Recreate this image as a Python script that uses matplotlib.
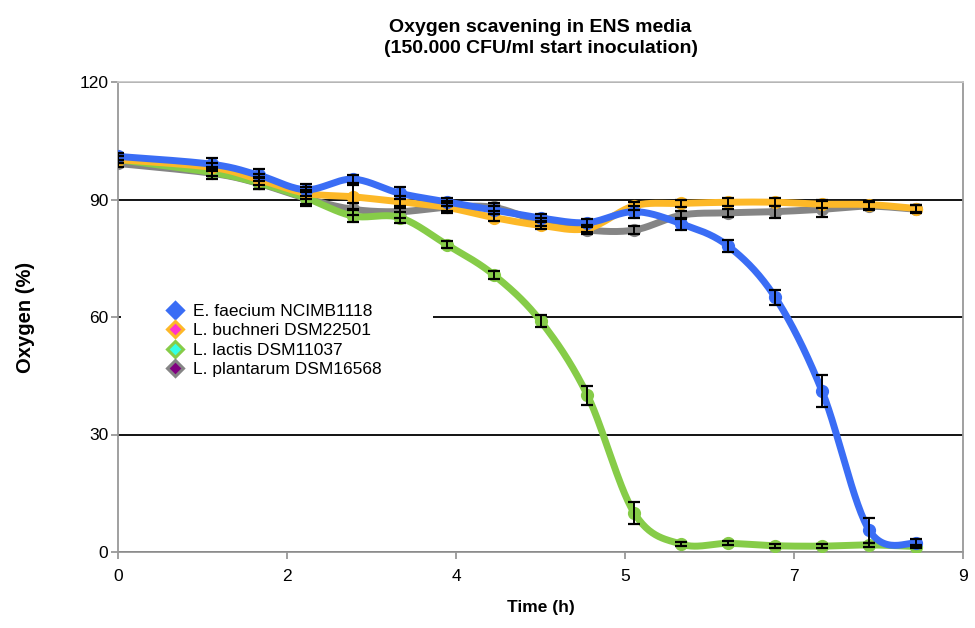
import matplotlib
matplotlib.use("Agg")
import matplotlib.pyplot as plt
from matplotlib.lines import Line2D
import numpy as np

plt.rcParams["font.family"] = ["Liberation Sans", "DejaVu Sans"]

time_h = [0, 1, 1.5, 2, 2.5, 3, 3.5, 4, 4.5, 5, 5.5, 6, 6.5, 7, 7.5, 8, 8.5]

labels = ["E. faecium NCIMB1118", "L. buchneri DSM22501",
          "L. lactis DSM11037", "L. plantarum DSM16568"]

faecium = [101, 99, 96.2, 92.5, 95.2, 91.6, 89.4, 87.3, 85.3, 84.1, 86.9, 83.8, 78.1, 65, 41, 5.6, 2.2]
buchneri = [100.2, 98.2, 95.1, 91.6, 90.7, 89.4, 88, 85.4, 83.4, 82.6, 88.4, 89, 89.3, 89.3, 88.8, 88.7, 87.7]
lactis = [100.2, 96.9, 94.2, 90.4, 85.8, 85.4, 78.5, 70.8, 59, 40, 9.9, 2.0, 2.2, 1.6, 1.5, 1.8, 1.4]
plantarum = [99.2, 96.7, 94.1, 90.3, 87.5, 86.9, 88, 88, 84.3, 82.2, 82.2, 86, 86.6, 86.9, 87.5, 88.3, 87.5]

err_faecium = [1, 1.5, 1.5, 1.5, 1, 1.5, 1, 1, 1, 1, 1.5, 1.5, 1.5, 2, 4.1, 3.2, 1]
err_buchneri = [1, 1, 1.5, 1.5, 3, 1.5, 1.5, 1, 1, 1, 1, 1, 1, 1, 1, 1, 1]
err_lactis = [1, 1, 1.5, 2, 1.5, 1.5, 1, 1, 1.5, 2.5, 2.8, 0.5, 0.5, 0.5, 0.5, 0.5, 0.5]
err_plantarum = [1, 1.5, 1.5, 1.5, 1.5, 1.5, 1, 1, 1, 1, 1, 1, 1, 1.5, 2, 1, 1]

line_colors = ["#3a6df5", "#fdb827", "#86cc48", "#858585"]
legend_faces = ["#3a6df5", "#ff33cc", "#33ffe6", "#800080"]


def smooth(x, y, n=30):
    # catmull-rom, like excel "smoothed line"
    x = np.asarray(x, float)
    y = np.asarray(y, float)
    px = np.concatenate([[x[0]], x, [x[-1]]])
    py = np.concatenate([[y[0]], y, [y[-1]]])
    xs, ys = [], []
    t = np.linspace(0, 1, n)
    for i in range(1, len(px) - 2):
        p0, p1, p2, p3 = [np.array([px[j], py[j]]) for j in range(i - 1, i + 3)]
        c1 = p1 + (p2 - p0) / 6
        c2 = p2 - (p3 - p1) / 6
        b = ((1 - t) ** 3)[:, None] * p1 + (3 * (1 - t) ** 2 * t)[:, None] * c1 \
            + (3 * (1 - t) * t ** 2)[:, None] * c2 + (t ** 3)[:, None] * p2
        xs.append(b[:, 0])
        ys.append(b[:, 1])
    return np.concatenate(xs), np.concatenate(ys)


fig = plt.figure(figsize=(9.75, 6.28), dpi=100)
ax = fig.add_axes([118 / 975, 1 - 552 / 628, 845 / 975, 470 / 628])

series = [plantarum, lactis, buchneri, faecium]
errs = [err_plantarum, err_lactis, err_buchneri, err_faecium]
cols = [line_colors[3], line_colors[2], line_colors[1], line_colors[0]]
for k, (ys, c) in enumerate(zip(series, cols)):
    sx, sy = smooth(time_h, ys)
    ax.plot(sx, sy, color=c, lw=5, solid_capstyle="round", zorder=3 + k)
    ax.plot(time_h, ys, "o", color=c, ms=8.5, zorder=3 + k)

for ys, e in zip(series, errs):
    ax.errorbar(time_h, ys, yerr=e, fmt="none", ecolor="black",
                elinewidth=1.4, capsize=4, capthick=1.6, zorder=10)

ax.set_xlim(0, 9)
ax.set_ylim(0, 120)
xt = np.linspace(0, 9, 6)
ax.set_xticks(xt)
ax.set_xticklabels([f"{v:.0f}" for v in xt])
ax.set_yticks([0, 30, 60, 90, 120])
ax.yaxis.grid(True, color="black", lw=1.3)
ax.set_axisbelow(True)
for s in ax.spines.values():
    s.set_color("#999999")
    s.set_linewidth(1.3)
ax.spines["top"].set_color("#c8c8c8")
ax.tick_params(axis="both", direction="out", length=5, width=1.3,
               color="#999999", labelsize=12.5)
ax.tick_params(axis="x", pad=7)
ax.tick_params(axis="y", pad=2)

ax.set_xlabel("Time (h)", fontsize=12.5, fontweight="bold", labelpad=12)
ax.set_ylabel("Oxygen (%)", fontsize=14.5, fontweight="bold", labelpad=32)
ax.set_title("Oxygen scavening in ENS media\n(150.000 CFU/ml start inoculation)",
             fontsize=14, fontweight="bold", pad=21, linespacing=1.3)

handles = [Line2D([], [], ls="none", marker="D", ms=8, mfc=f, mec=c, mew=2.2)
           for f, c in zip(legend_faces, line_colors)]
leg = ax.legend(handles, labels, loc="upper left",
                bbox_to_anchor=(0.004, 0.528, 0.369, 0.1), mode="expand",
                fontsize=12.5, frameon=True, fancybox=False, borderpad=2.69,
                handlelength=0.8, handletextpad=0.63, labelspacing=0.25,
                borderaxespad=0)
leg.get_frame().set_facecolor("white")
leg.get_frame().set_edgecolor("none")
leg.get_frame().set_alpha(1)
leg.set_zorder(2.5)

fig.savefig("out.png", dpi=100)
